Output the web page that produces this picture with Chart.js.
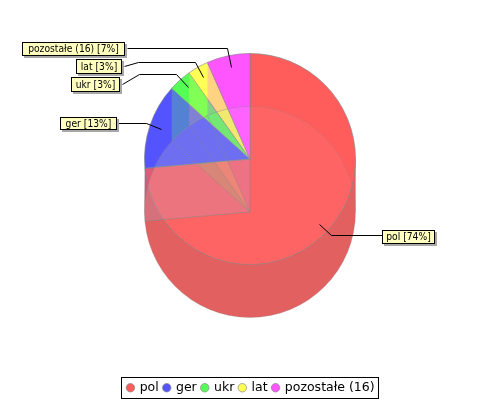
<!DOCTYPE html>
<html><head><meta charset="utf-8">
<style>html,body{margin:0;padding:0;background:#fff}#w{width:500px;height:400px;position:relative}</style>
<script src="https://cdn.jsdelivr.net/npm/chart.js@4"></script></head>
<body><div id="w"><canvas id="c" width="500" height="400"></canvas></div>
<script>
const categories = ['pol','ger','ukr','lat','pozostałe (16)'];
const values = [73.6,13.1,3.5,3.2,6.6];
const shares = ['74%','13%','3%','3%','7%'];
const paints = ['#FF5C5C','#5555FF','#55FF55','#FFFF55','#FF55FF'];
const lowerTints = ['rgba(255,125,125,.26)','rgba(181,181,197,.26)','rgba(200,165,200,.26)','rgba(200,165,185,.26)','rgba(255,140,255,.26)'];
const wallAlphas = [0,.17,.26,.26,.26];
const sectorFillAlphas = [0,0,.13,.13,.05];
const depth = 53;
// callout geometry: box x,y,w,h and leader polyline
const callouts = [
 {i:0,box:[382,230,52,13],line:[[319,224],[331,235],[382,235]]},
 {i:1,box:[60,117,56,12],line:[[118,123],[146,123],[161,129]]},
 {i:2,box:[71,77,48,14],line:[[122,84],[139,74],[176,74],[188,87]]},
 {i:3,box:[76,59,45,14],line:[[124,66],[138,62],[195,62],[203,77]]},
 {i:4,box:[22,42,102,13],line:[[127,48],[227,48],[231,67]]}
];
function sector(ctx,x,y,r,a,b){ctx.beginPath();ctx.moveTo(x,y);ctx.arc(x,y,r,a,b);ctx.closePath();}
function geom(chart){const arcs=chart.getDatasetMeta(0).data;const a0=arcs[0];return {arcs,x:a0.x,y:a0.y,r:a0.outerRadius};}
const pie3d={id:'pie3d',
 afterLayout(chart){chart.chartArea={left:144,top:53,right:356,bottom:265,width:212,height:212};},
 beforeDatasetsDraw(chart){
  const {ctx}=chart,{arcs,x,y,r}=geom(chart);const end=arcs[0].endAngle;
  ctx.save();ctx.beginPath();
  ctx.moveTo(x+r,y);ctx.lineTo(x+r,y+depth);ctx.arc(x,y+depth,r,0,Math.PI);
  ctx.lineTo(x+r*Math.cos(end),y+r*Math.sin(end));ctx.closePath();
  ctx.fillStyle='#E36060';ctx.fill();
  ctx.beginPath();ctx.moveTo(x+r,y);ctx.lineTo(x+r,y+depth);ctx.arc(x,y+depth,r,0,Math.PI);
  ctx.lineTo(x+r*Math.cos(end),y+r*Math.sin(end));
  ctx.strokeStyle='rgba(136,136,136,.3)';ctx.lineWidth=1;ctx.stroke();ctx.restore();
 },
 afterDatasetsDraw(chart){
  const {ctx}=chart,{arcs,x,y,r}=geom(chart);
  ctx.save();
  // lower-face tint, seen through each upper slice
  arcs.forEach((a,i)=>{ctx.save();sector(ctx,x,y,r,a.startAngle,a.endAngle);ctx.clip();
   ctx.beginPath();ctx.arc(x,y+depth,r,0,Math.PI*2);ctx.fillStyle=lowerTints[i];ctx.fill();ctx.restore();});
  ctx.beginPath();ctx.arc(x,y+depth,r,Math.PI*1.02,Math.PI*2);ctx.strokeStyle='rgba(136,136,136,.25)';ctx.lineWidth=1;ctx.stroke();
  // radial wall of the main slice, inside the lower circle
  const e=arcs[0].endAngle, ex=x+r*Math.cos(e), ey=y+r*Math.sin(e);
  ctx.save();ctx.beginPath();ctx.arc(x,y+depth,r,0,Math.PI*2);ctx.clip();
  ctx.beginPath();ctx.moveTo(ex,ey);ctx.lineTo(x,y);ctx.lineTo(x,y+depth);ctx.lineTo(ex,ey+depth);ctx.closePath();
  ctx.fillStyle='rgba(178,162,200,.26)';ctx.fill();ctx.restore();
  ctx.beginPath();ctx.moveTo(ex,ey);ctx.lineTo(x,y);ctx.lineTo(x,y+depth);ctx.lineTo(ex,ey+depth);
  ctx.strokeStyle='rgba(136,136,136,.4)';ctx.stroke();
  // lower-face sectors of the small slices: tinted only where they fall on the main slice
  arcs.forEach((a,i)=>{if(i===0)return;
   ctx.save();sector(ctx,x,y,r+60,arcs[0].startAngle,arcs[0].endAngle);ctx.clip();
   sector(ctx,x,y+depth,r,a.startAngle,a.endAngle);
   ctx.globalAlpha=sectorFillAlphas[i];ctx.fillStyle=paints[i];ctx.fill();ctx.restore();
   sector(ctx,x,y+depth,r,a.startAngle,a.endAngle);
   ctx.globalAlpha=.2;ctx.strokeStyle='#888';ctx.stroke();ctx.globalAlpha=1;});
  // back curved walls of the small slices
  arcs.forEach((a,i)=>{if(i===0)return;
   ctx.beginPath();ctx.arc(x,y,r,a.startAngle,a.endAngle);ctx.arc(x,y+depth,r,a.endAngle,a.startAngle,true);ctx.closePath();
   ctx.globalAlpha=wallAlphas[i];ctx.fillStyle=paints[i];ctx.fill();ctx.globalAlpha=1;});
  // callouts
  ctx.font='10px "DejaVu Sans"';ctx.textBaseline='middle';ctx.textAlign='center';
  callouts.forEach(c=>{const [bx,by,bw,bh]=c.box;
   ctx.beginPath();c.line.forEach((p,k)=>k?ctx.lineTo(p[0]+.5,p[1]+.5):ctx.moveTo(p[0]+.5,p[1]+.5));
   ctx.strokeStyle='#000';ctx.lineWidth=1;ctx.stroke();
   ctx.fillStyle='#A8A8A8';ctx.fillRect(bx+2,by+2,bw+1,bh+1);
   ctx.fillStyle='#FFFFC0';ctx.fillRect(bx,by,bw,bh);
   ctx.strokeStyle='#000';ctx.strokeRect(bx+.5,by+.5,bw,bh);
   const t=categories[c.i]+' ['+shares[c.i]+']';
   ctx.fillStyle='#000';ctx.fillText(t,bx+bw/2+.5,by+bh/2+1,ctx.measureText(t).width*.92);
  });
  // legend frame
  ctx.strokeStyle='#000';ctx.lineWidth=1;ctx.strokeRect(121.5,377.5,257,21);
  ctx.restore();
 }};
new Chart(document.getElementById('c'),{
 type:'pie',
 data:{labels:categories,datasets:[{data:values,backgroundColor:paints,borderColor:'rgba(136,136,136,.7)',borderWidth:1,hoverOffset:0}]},
 options:{responsive:false,animation:false,
  layout:{padding:{top:0,left:2,right:0,bottom:-4}},
  plugins:{tooltip:{enabled:false},title:{display:false},
   legend:{display:true,position:'bottom',
    labels:{usePointStyle:true,boxWidth:6,boxHeight:6,padding:5,color:'#000',font:{family:'"DejaVu Sans"',size:12.5}}}}},
 plugins:[pie3d]});
</script></body></html>
